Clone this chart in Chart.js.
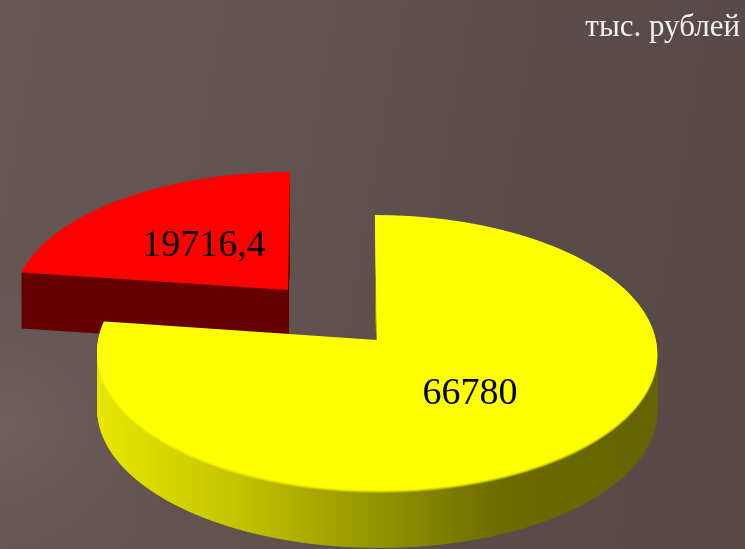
<!DOCTYPE html>
<html>
<head>
<meta charset="utf-8">
<script src="https://cdn.jsdelivr.net/npm/chart.js@4"></script>
<style>
html,body{margin:0;height:100%;overflow:hidden;}
body{width:745px;height:549px;position:relative;
  background:
    radial-gradient(ellipse 150px 130px at 0px 425px,#6f605f 0%,rgba(111,96,95,0) 100%),
    linear-gradient(100deg,#655654 0%,#625351 35%,#5a4c4a 65%,#574947 100%);}
#wrap{position:absolute;left:0;top:0;width:745px;height:549px;}
#unit{position:absolute;right:5px;top:8px;font:31px "Liberation Serif",serif;color:#f2f0f0;white-space:nowrap;}
</style>
</head>
<body>
<div id="wrap"><canvas id="pie" width="745" height="549"></canvas></div>
<div id="unit">тыс. рублей</div>
<script>
let categories = ['A','B'];
let values = [66780, 19716.4];
let colors = ['#ffff00','#ff0000'];

// page placement of each slice, the pie stays circular in chart space
// a,b,c = perspective projection of the unit circle, skew = lean of the vertical edge
let slices = [
  {cx:377, cy:340, a:278.85, b:136.36, c:0.0909, skew:0.016, depth:58, lx:470, ly:404},
  {cx:288, cy:290, a:273, b:128.7, c:0.0909, skew:-0.017, depth:56, lx:204, ly:256}
];

function label(v){ return String(v).replace('.',','); }

// draw one arc row by row through the perspective mapping
function drawFace(ctx,arc,s,fill){
  let k=arc.outerRadius;
  let old=arc.options;
  arc.options=Object.assign({},old,{backgroundColor:fill});
  let top=Math.floor(s.cy-s.b/(1+s.c))-1, bottom=Math.ceil(s.cy+s.b/(1-s.c))+1;
  for(let Y=top;Y<=bottom;Y++){
    let yy=Y+0.5-s.cy;
    let v=yy/(s.b+s.c*yy);
    if(Math.abs(v)>1.02) continue;
    let w=1-s.c*v;
    ctx.save();
    ctx.beginPath(); ctx.rect(0,Y,745,1); ctx.clip();
    ctx.translate(s.cx+s.skew*yy,Y+0.5);
    ctx.scale(s.a/(w*k),s.b/(w*w*k));
    ctx.translate(-arc.x,-(arc.y+v*k));
    arc.draw(ctx);
    ctx.restore();
  }
  arc.options=old;
}

function layer(){
  let c=document.createElement('canvas');
  c.width=745; c.height=549;
  return c;
}

function wallFill(ctx,i){
  if(i==1) return '#660000';
  let g=ctx.createLinearGradient(97,0,657,0);
  g.addColorStop(0,'#e8e800');
  g.addColorStop(0.25,'#c4c400');
  g.addColorStop(0.47,'#999900');
  g.addColorStop(0.72,'#6c6c00');
  g.addColorStop(1,'#646400');
  return g;
}

let tiltPlugin = {
  id:'tilt',
  beforeDatasetsDraw(chart){
    let ctx=chart.ctx;
    let arcs=chart.getDatasetMeta(0).data;
    [1,0].forEach(i=>{
      let arc=arcs[i], s=slices[i];
      let face=layer();
      drawFace(face.getContext('2d'),arc,s,colors[i]);
      let wall=layer(), wc=wall.getContext('2d');
      wc.drawImage(face,0,0);
      wc.globalCompositeOperation='source-in';
      wc.fillStyle=wallFill(wc,i);
      wc.fillRect(0,0,745,549);
      for(let d=s.depth;d>0;d--) ctx.drawImage(wall,0,d);
      if(i==0){
        [[3,0.3],[2,0.5],[1,0.7]].forEach(([d,al])=>{
          ctx.globalAlpha=al;
          ctx.drawImage(face,0,d);
        });
        ctx.globalAlpha=1;
      }
      ctx.drawImage(face,0,0);
    });
    ctx.save();
    ctx.fillStyle='#000';
    ctx.font='38px "Liberation Serif",serif';
    ctx.textAlign='center';
    ctx.textBaseline='alphabetic';
    values.forEach((v,i)=>ctx.fillText(label(v),slices[i].lx,slices[i].ly));
    ctx.restore();
    return false;
  }
};

new Chart(document.getElementById('pie'),{
  type:'pie',
  data:{labels:categories,datasets:[{data:values,backgroundColor:colors,borderWidth:0}]},
  options:{
    responsive:false,
    animation:false,
    rotation:0,
    plugins:{legend:{display:false},tooltip:{enabled:false}}
  },
  plugins:[tiltPlugin]
});
</script>
</body>
</html>
